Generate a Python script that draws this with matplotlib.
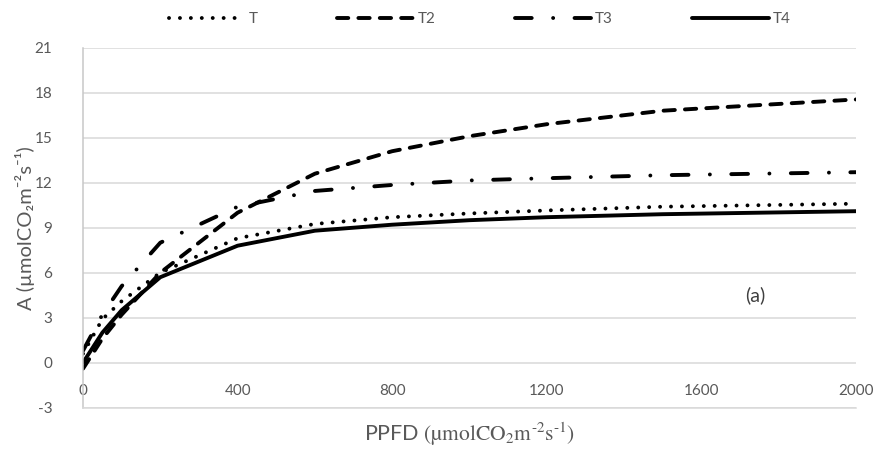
import matplotlib
matplotlib.use("Agg")
import matplotlib.pyplot as plt

plt.rcParams["font.family"] = ["Lato", "DejaVu Sans"]
plt.rcParams["mathtext.fontset"] = "stix"
plt.rcParams["axes.unicode_minus"] = False

# light response curves (PPFD vs net assimilation)
ppfd = [0, 50, 100, 200, 400, 600, 800, 1000, 1200, 1500, 2000]
a_t = [0.6, 2.9, 4.1, 6.0, 8.3, 9.25, 9.7, 9.95, 10.15, 10.4, 10.6]
a_t2 = [-0.4, 1.6, 3.2, 6.0, 10.0, 12.6, 14.1, 15.1, 15.9, 16.8, 17.55]
a_t3 = [0.8, 3.2, 5.1, 8.0, 10.4, 11.45, 11.85, 12.15, 12.3, 12.5, 12.7]
a_t4 = [0.0, 2.0, 3.5, 5.7, 7.8, 8.8, 9.2, 9.5, 9.7, 9.9, 10.1]

series = ["T", "T2", "T3", "T4"]
x_ticks = [0, 400, 800, 1200, 1600, 2000]
y_ticks = [-3, 0, 3, 6, 9, 12, 15, 18, 21]

GREY = "#595959"
GRID = "#d9d9d9"

fig = plt.figure(figsize=(8.8, 4.5), dpi=100)
ax = fig.add_axes([83 / 880, 42.3 / 450, 773 / 880, 360 / 450])

lw = 2.8
ax.plot(ppfd, a_t, color="black", lw=lw, ls=(0, (0.01, 2.8)),
        dash_capstyle="round", label=series[0])
ax.plot(ppfd, a_t2, color="black", lw=lw, ls=(0, (2.9, 2.6)),
        dash_capstyle="round", label=series[1])
ax.plot(ppfd, a_t3, color="black", lw=lw, ls=(0, (4.3, 5.5, 0.01, 5.5)),
        dash_capstyle="round", label=series[2])
ax.plot(ppfd, a_t4, color="black", lw=lw, ls="-", solid_capstyle="round",
        label=series[3])

ax.set_xlim(0, 2000)
ax.set_ylim(-3, 21)
ax.set_xticks(x_ticks)
ax.set_yticks(y_ticks)
ax.yaxis.grid(True, color=GRID, lw=1.1)
ax.set_axisbelow(True)
for side in ("top", "right"):
    ax.spines[side].set_visible(False)
ax.spines["bottom"].set_color(GRID)
ax.spines["bottom"].set_linewidth(1.1)
ax.spines["left"].set_color("#c8c8c8")
ax.spines["left"].set_linewidth(1.1)

ax.tick_params(axis="both", length=0, labelsize=11, labelcolor=GREY)
ax.tick_params(axis="y", pad=22)
ax.tick_params(axis="x", pad=-17)

ax.set_ylabel("A (µmolCO₂m⁻²s⁻¹)", fontsize=14.5, color=GREY, labelpad=0)
ax.set_xlabel("PPFD $\\mathrm{(µmolCO_2m^{\u20102}s^{\u20101})}$",
              fontsize=15.5, color=GREY, labelpad=9)

ax.text(1740, 4.5, "(a)", fontsize=14, color="#404040",
        ha="center", va="center")

fig.legend(loc="center", bbox_to_anchor=(0.545, 0.957), ncol=4, frameon=False,
           fontsize=11, handlelength=5.0, handletextpad=0.25,
           columnspacing=5.2, labelcolor=GREY)

fig.savefig("out.png", dpi=100)
